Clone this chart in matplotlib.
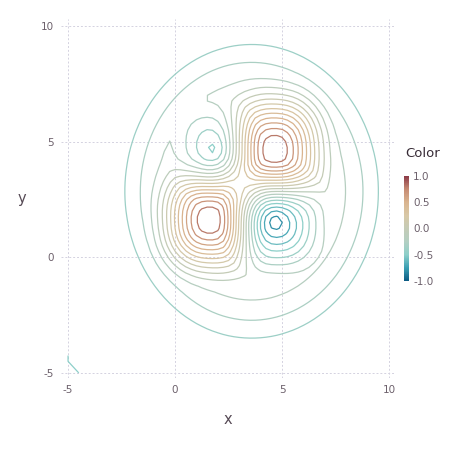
import numpy as np
import matplotlib
matplotlib.use("Agg")
import matplotlib.pyplot as plt
from matplotlib.colors import LinearSegmentedColormap, Normalize
from matplotlib.cm import ScalarMappable

# four peaks: centre, height, reach, profile, stretch
peak_x = [1.59, 4.67, 4.65, 1.87]
peak_y = [1.60, 4.65, 1.60, 4.63]
peak_amp = [1.0, 1.0, -0.77, -0.43]
peak_reach = [3.35, 3.35, 2.6, 2.2]
peak_m = [2, 2, 1.4, 1.4]
peak_q = [3, 3, 1.4, 1.4]
peak_ky = [1.0, 1.08, 1.0, 1.05]

# broad plateau that carries the peaks
base_x, base_y = 3.58, 2.85
base_sx, base_sy = 5.6, 6.0
base_top = 0.39
base_floor = -0.5
base_shape = 5.5

levels = [-0.9, -0.8, -0.7, -0.6, -0.5, -0.4, -0.3, -0.2, -0.1, 0.0,
          0.1, 0.2, 0.3, 0.4, 0.5, 0.6, 0.7, 0.8, 0.9]

x_ticks = [-5, 0, 5, 10]
y_ticks = [-5, 0, 5, 10]
key_ticks = [1.0, 0.5, 0.0, -0.5, -1.0]

# colours picked off the key, bottom (-1) to top (1)
key_colors = ["#0b5a82", "#3a9fb3", "#8dcfc9", "#b3cfc2", "#c4cbb6",
              "#d8c8a6", "#d9b48f", "#c68b73", "#8c3a47"]
cmap = LinearSegmentedColormap.from_list("gad", key_colors)
norm = Normalize(-1, 1)

gx = np.linspace(-5, 10, 61)
gy = np.linspace(-5, 10, 61)
X, Y = np.meshgrid(gx, gy)
rn = np.hypot((X - base_x) / base_sx, (Y - base_y) / base_sy)
Z = base_floor + base_top * np.exp(-rn ** base_shape)
for cx, cy, a, R, m, q, ky in zip(peak_x, peak_y, peak_amp, peak_reach, peak_m, peak_q, peak_ky):
    r = (np.abs(X - cx) ** 2.5 + np.abs((Y - cy) / ky) ** 2.5) ** (1 / 2.5)
    u = np.clip(r / R, 0, 1)
    Z += a * (1 - u ** m) ** q

W, H = 454, 454
fig = plt.figure(figsize=(W / 100, H / 100), dpi=100)
ax = fig.add_axes([61 / W, 1 - 378 / H, 334 / W, 359 / H])

ax.contour(X, Y, Z, levels=levels, cmap=cmap, norm=norm, linewidths=0.9)

ax.set_xlim(-5.33, 10.28)
ax.set_ylim(-5.22, 10.30)
ax.set_xticks(x_ticks)
ax.set_yticks(y_ticks)
ax.set_xticklabels([str(t) for t in x_ticks])
ax.set_yticklabels([str(t) for t in y_ticks])
ax.tick_params(length=0, labelsize=7.5, labelcolor="#6c606b", pad=5)
ax.grid(True, color="#d4d2e0", linestyle=(0, (2, 2)), linewidth=0.7)
ax.set_axisbelow(True)
for s in ax.spines.values():
    s.set_visible(False)
ax.set_xlabel("x", fontsize=10.5, color="#564a55", labelpad=12)
ax.set_ylabel("y", fontsize=10.5, color="#564a55", rotation=0, labelpad=14, va="center")

# colour key
fig.text(405 / W, 1 - 153 / H, "Color", fontsize=9.5, color="#362a35", va="center", ha="left")
cax = fig.add_axes([404 / W, 1 - 281 / H, 5 / W, 105 / H])
cb = fig.colorbar(ScalarMappable(norm=norm, cmap=cmap), cax=cax)
cb.outline.set_visible(False)
cb.set_ticks(key_ticks)
cb.set_ticklabels(["1.0", "0.5", "0.0", "-0.5", "-1.0"])
cax.tick_params(length=0, labelsize=7.5, labelcolor="#6c606b", pad=3)

fig.savefig("out.png", dpi=100)
